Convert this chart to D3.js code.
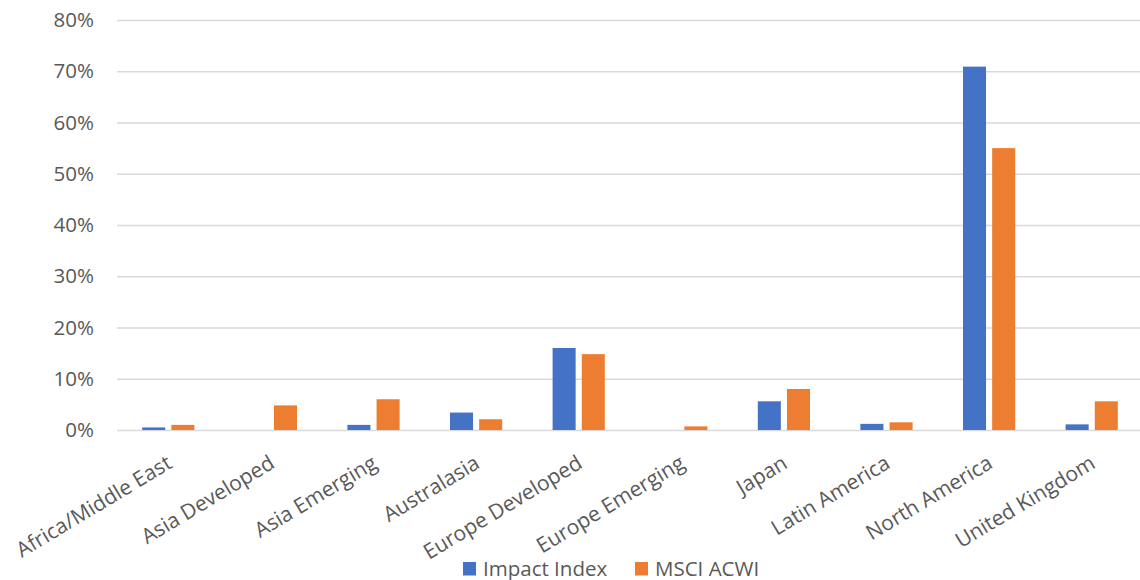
<!DOCTYPE html>
<html>
<head>
<meta charset="utf-8">
<script src="https://cdn.jsdelivr.net/npm/d3@7"></script>
<style>
  html, body { margin: 0; padding: 0; background: #fff; }
  svg text { font-family: "Open Sans", sans-serif; fill: #595959; }
</style>
</head>
<body>
<svg id="chart" width="1140" height="580"></svg>
<script>
// Regional weights (% of index)
const categories = ["Africa/Middle East", "Asia Developed", "Asia Emerging", "Australasia",
  "Europe Developed", "Europe Emerging", "Japan", "Latin America", "North America", "United Kingdom"];
const seriesNames = ["Impact Index", "MSCI ACWI"];
const impactIndex = [0.5, 0.0, 1.0, 3.4, 16.0, 0.0, 5.6, 1.2, 70.9, 1.1];
const msciAcwi   = [1.0, 4.8, 6.0, 2.1, 14.8, 0.7, 8.0, 1.5, 55.0, 5.6];
const yTicks = [0, 10, 20, 30, 40, 50, 60, 70, 80];
const colors = ["#4472C4", "#ED7D31"];

const svg = d3.select("#chart");
const plotLeft = 117, plotRight = 1143, plotTop = 20, plotBottom = 430;
const fontSize = 20.5;

const y = d3.scaleLinear().domain([0, 80]).range([plotBottom, plotTop]);
const x0 = d3.scaleBand().domain(categories).range([plotLeft, plotRight]).padding(0);
const groupW = 52.2;
const x1 = d3.scaleBand().domain(seriesNames)
  .range([(x0.bandwidth() - groupW) / 2, (x0.bandwidth() + groupW) / 2])
  .paddingInner(0.21).paddingOuter(0);

// Horizontal gridlines and percentage labels
const yAxis = d3.axisLeft(y).tickValues(yTicks).tickSize(-(plotRight - plotLeft)).tickFormat(d => d + "%").tickPadding(23);
const gy = svg.append("g").attr("transform", `translate(${plotLeft},0)`).call(yAxis);
gy.select(".domain").remove();
gy.selectAll(".tick line").attr("stroke", "#D9D9D9").attr("stroke-width", 1.3);
gy.selectAll(".tick text").attr("font-size", fontSize).style("fill", "#595959");

// Bars
const rows = categories.map((c, i) => ({ cat: c, vals: [impactIndex[i], msciAcwi[i]] }));
const groups = svg.append("g").selectAll("g").data(rows).join("g")
  .attr("transform", d => `translate(${x0(d.cat)},0)`);
groups.selectAll("rect")
  .data(d => d.vals.map((v, j) => ({ name: seriesNames[j], v, j })).filter(e => e.v > 0))
  .join("rect")
  .attr("x", e => x1(e.name))
  .attr("width", x1.bandwidth())
  .attr("y", e => y(e.v))
  .attr("height", e => y(0) - y(e.v))
  .attr("fill", e => colors[e.j]);

// Category labels (rotated)
const xAxis = d3.axisBottom(x0).tickSize(0).tickPadding(0);
const gx = svg.append("g").attr("transform", `translate(0,${plotBottom})`).call(xAxis);
gx.select(".domain").remove();
gx.selectAll(".tick text")
  .attr("font-size", 21)
  .attr("text-anchor", "end")
  .attr("y", 0)
  .attr("dy", 0)
  .attr("transform", "translate(5,37) rotate(-31)")
  .style("fill", "#595959");

// Legend
const legend = svg.append("g").attr("transform", "translate(463,562)");
const legendX = [0, 172];
seriesNames.forEach((name, i) => {
  const g = legend.append("g").attr("transform", `translate(${legendX[i]},0)`);
  g.append("rect").attr("width", 13).attr("height", 13.5).attr("fill", colors[i]);
  g.append("text").attr("x", 20).attr("y", 13.5).attr("font-size", fontSize).text(name);
});
</script>
</body>
</html>
